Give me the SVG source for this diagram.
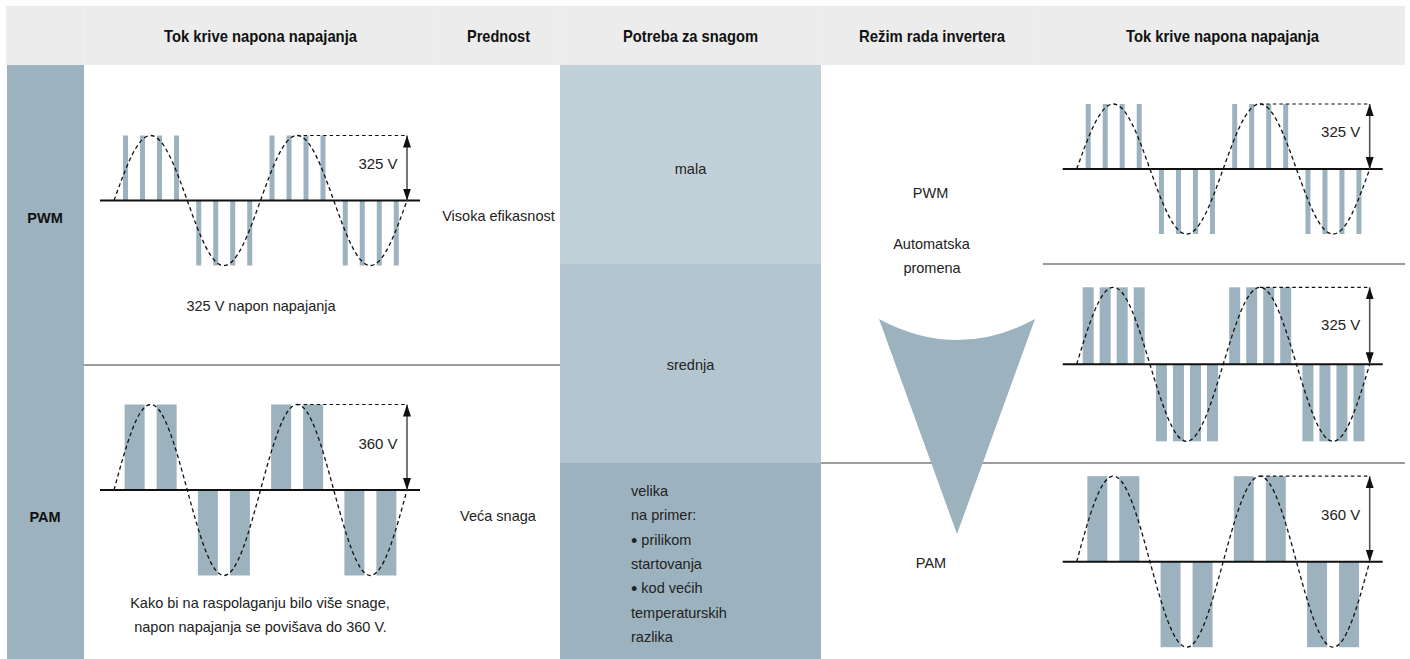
<svg xmlns="http://www.w3.org/2000/svg" width="1410" height="659" viewBox="0 0 1410 659">
<style>
.bg{fill:#ffffff}
.hdr{fill:#ebeceb}
.sep{stroke:#f0f1f0;stroke-width:1}
.col{fill:#9cb2bf}
.c1{fill:#c2d0d9}
.c2{fill:#b3c5cf}
.c3{fill:#9cb2bf}
.div{stroke:#3a3a3a;stroke-width:1}
.bar{fill:#9cb2bf}
.axis{stroke:#111;stroke-width:2}
.sine{fill:none;stroke:#111;stroke-width:1.3;stroke-dasharray:4 3}
.dash{fill:none;stroke:#111;stroke-width:1.2;stroke-dasharray:3.5 3}
.arr{stroke:#555;stroke-width:1.6;marker-start:url(#ah);marker-end:url(#ah)}
.h{font-family:"Liberation Sans",Arial,sans-serif;font-weight:bold;font-size:16.5px;fill:#111;text-anchor:middle}
.b{font-family:"Liberation Sans",Arial,sans-serif;font-weight:bold;font-size:14.5px;fill:#111;text-anchor:middle}
.t{font-family:"Liberation Sans",Arial,sans-serif;font-size:14.5px;fill:#222;text-anchor:middle}
.v{font-family:"Liberation Sans",Arial,sans-serif;font-size:15px;fill:#222;text-anchor:middle}
.tl{font-family:"Liberation Sans",Arial,sans-serif;font-size:14.5px;fill:#222}
.blt{font-size:18px}
.funnel{fill:#9cb2bf}
</style>
<defs>
<marker id="ah" viewBox="0 0 12 8" refX="12" refY="4" markerWidth="12" markerHeight="8" markerUnits="userSpaceOnUse" orient="auto-start-reverse">
<path d="M0,0 L12,4 L0,8 Z" fill="#111"/>
</marker>
</defs>
<rect class="bg" x="0" y="0" width="1410" height="659"/>

<g id="header">
<rect class="hdr" x="6" y="6" width="1399" height="59"/>
<line class="sep" x1="84" y1="6" x2="84" y2="65"/>
<line class="sep" x1="437" y1="6" x2="437" y2="65"/>
<line class="sep" x1="560" y1="6" x2="560" y2="65"/>
<line class="sep" x1="821" y1="6" x2="821" y2="65"/>
<line class="sep" x1="1038" y1="6" x2="1038" y2="65"/>
<text class="h" x="260.5" y="42" textLength="193" lengthAdjust="spacingAndGlyphs">Tok krive napona napajanja</text>
<text class="h" x="498.5" y="42" textLength="63" lengthAdjust="spacingAndGlyphs">Prednost</text>
<text class="h" x="690.5" y="42" textLength="135" lengthAdjust="spacingAndGlyphs">Potreba za snagom</text>
<text class="h" x="932" y="42" textLength="146" lengthAdjust="spacingAndGlyphs">Režim rada invertera</text>
<text class="h" x="1222.5" y="42" textLength="193" lengthAdjust="spacingAndGlyphs">Tok krive napona napajanja</text>
</g>

<g id="mode-column">
<rect class="col" x="7" y="65" width="77" height="594"/>
<text class="b" x="45" y="223">PWM</text>
<text class="b" x="45" y="522">PAM</text>
</g>

<g id="power-column">
<rect class="c1" x="560" y="65" width="261" height="199"/>
<rect class="c2" x="560" y="264" width="261" height="199"/>
<rect class="c3" x="560" y="463" width="261" height="196"/>
<text class="t" x="690.5" y="174">mala</text>
<text class="t" x="690.5" y="370">srednja</text>
<text class="tl" x="631" y="496">velika</text>
<text class="tl" x="631" y="520.3">na primer:</text>
<text class="tl" x="631" y="544.6"><tspan class="blt" dy="2">•</tspan><tspan dy="-2"> prilikom</tspan></text>
<text class="tl" x="631" y="568.9">startovanja</text>
<text class="tl" x="631" y="593.2"><tspan class="blt" dy="2">•</tspan><tspan dy="-2"> kod većih</tspan></text>
<text class="tl" x="631" y="617.5">temperaturskih</text>
<text class="tl" x="631" y="641.8">razlika</text>
</g>

<g id="dividers">
<line class="div" x1="84" y1="365" x2="560" y2="365"/>
<line class="div" x1="1043" y1="264" x2="1405" y2="264"/>
<line class="div" x1="821" y1="463" x2="1405" y2="463"/>
</g>

<g id="advantage">
<text class="t" x="498.5" y="221">Visoka efikasnost</text>
<text class="t" x="498" y="521">Veća snaga</text>
</g>

<g id="left-captions">
<text class="t" x="261" y="311">325 V napon napajanja</text>
<text class="t" x="260" y="608">Kako bi na raspolaganju bilo više snage,</text>
<text class="t" x="260.5" y="632">napon napajanja se povišava do 360 V.</text>
</g>

<g id="inverter-mode">
<text class="t" x="930.5" y="198">PWM</text>
<text class="t" x="931.5" y="249">Automatska</text>
<text class="t" x="932" y="273">promena</text>
<path class="funnel" d="M879,319 Q957,361 1035,319 L957,534 Z"/>
<text class="t" x="931" y="568">PAM</text>
</g>

<g id="wave-left-pwm" transform="translate(114,200.5)">
<rect class="bar" x="9" y="-65" width="5" height="65"/><rect class="bar" x="26" y="-65" width="5" height="65"/><rect class="bar" x="43" y="-65" width="5" height="65"/><rect class="bar" x="60" y="-65" width="5" height="65"/>
<rect class="bar" x="82.25" y="0" width="5" height="65"/><rect class="bar" x="99.25" y="0" width="5" height="65"/><rect class="bar" x="116.25" y="0" width="5" height="65"/><rect class="bar" x="133.25" y="0" width="5" height="65"/>
<rect class="bar" x="155.5" y="-65" width="5" height="65"/><rect class="bar" x="172.5" y="-65" width="5" height="65"/><rect class="bar" x="189.5" y="-65" width="5" height="65"/><rect class="bar" x="206.5" y="-65" width="5" height="65"/>
<rect class="bar" x="228.75" y="0" width="5" height="65"/><rect class="bar" x="245.75" y="0" width="5" height="65"/><rect class="bar" x="262.75" y="0" width="5" height="65"/><rect class="bar" x="279.75" y="0" width="5" height="65"/>
<line class="axis" x1="-14" y1="0" x2="306" y2="0"/>
<path class="sine" d="M0,0 c11.944,-33.3 23.37,-65 36.625,-65 s24.681,31.7 36.625,65 s23.37,65 36.625,65 s24.681,-31.7 36.625,-65 s23.37,-65 36.625,-65 s24.681,31.7 36.625,65 s23.37,65 36.625,65 s24.681,-31.7 36.625,-65"/>
<line class="dash" x1="183.125" y1="-65" x2="293" y2="-65"/>
<line class="arr" x1="293" y1="-65" x2="293" y2="0"/>
<text class="v" x="264" y="-32">325 V</text>
</g>

<g id="wave-left-pam" transform="translate(114,490)">
<rect class="bar" x="10.625" y="-85.5" width="20" height="85.5"/><rect class="bar" x="42.625" y="-85.5" width="20" height="85.5"/>
<rect class="bar" x="83.875" y="0" width="20" height="85.5"/><rect class="bar" x="115.875" y="0" width="20" height="85.5"/>
<rect class="bar" x="157.125" y="-85.5" width="20" height="85.5"/><rect class="bar" x="189.125" y="-85.5" width="20" height="85.5"/>
<rect class="bar" x="230.375" y="0" width="20" height="85.5"/><rect class="bar" x="262.375" y="0" width="20" height="85.5"/>
<line class="axis" x1="-14" y1="0" x2="306" y2="0"/>
<path class="sine" d="M0,0 c11.944,-43.8 23.37,-85.5 36.625,-85.5 s24.681,41.7 36.625,85.5 s23.37,85.5 36.625,85.5 s24.681,-41.7 36.625,-85.5 s23.37,-85.5 36.625,-85.5 s24.681,41.7 36.625,85.5 s23.37,85.5 36.625,85.5 s24.681,-41.7 36.625,-85.5"/>
<line class="dash" x1="183.125" y1="-85.5" x2="293" y2="-85.5"/>
<line class="arr" x1="293" y1="-85.5" x2="293" y2="0"/>
<text class="v" x="264" y="-41.5">360 V</text>
</g>

<g id="wave-right-pwm" transform="translate(1076.7,169)">
<rect class="bar" x="9" y="-65" width="5" height="65"/><rect class="bar" x="26" y="-65" width="5" height="65"/><rect class="bar" x="43" y="-65" width="5" height="65"/><rect class="bar" x="60" y="-65" width="5" height="65"/>
<rect class="bar" x="82.25" y="0" width="5" height="65"/><rect class="bar" x="99.25" y="0" width="5" height="65"/><rect class="bar" x="116.25" y="0" width="5" height="65"/><rect class="bar" x="133.25" y="0" width="5" height="65"/>
<rect class="bar" x="155.5" y="-65" width="5" height="65"/><rect class="bar" x="172.5" y="-65" width="5" height="65"/><rect class="bar" x="189.5" y="-65" width="5" height="65"/><rect class="bar" x="206.5" y="-65" width="5" height="65"/>
<rect class="bar" x="228.75" y="0" width="5" height="65"/><rect class="bar" x="245.75" y="0" width="5" height="65"/><rect class="bar" x="262.75" y="0" width="5" height="65"/><rect class="bar" x="279.75" y="0" width="5" height="65"/>
<line class="axis" x1="-14" y1="0" x2="306" y2="0"/>
<path class="sine" d="M0,0 c11.944,-33.3 23.37,-65 36.625,-65 s24.681,31.7 36.625,65 s23.37,65 36.625,65 s24.681,-31.7 36.625,-65 s23.37,-65 36.625,-65 s24.681,31.7 36.625,65 s23.37,65 36.625,65 s24.681,-31.7 36.625,-65"/>
<line class="dash" x1="183.125" y1="-65" x2="293" y2="-65"/>
<line class="arr" x1="293" y1="-65" x2="293" y2="0"/>
<text class="v" x="264" y="-32">325 V</text>
</g>

<g id="wave-right-pwm-wide" transform="translate(1076.7,364.3)">
<rect class="bar" x="6" y="-77" width="11" height="77"/><rect class="bar" x="23" y="-77" width="11" height="77"/><rect class="bar" x="40" y="-77" width="11" height="77"/><rect class="bar" x="57" y="-77" width="11" height="77"/>
<rect class="bar" x="79.25" y="0" width="11" height="77"/><rect class="bar" x="96.25" y="0" width="11" height="77"/><rect class="bar" x="113.25" y="0" width="11" height="77"/><rect class="bar" x="130.25" y="0" width="11" height="77"/>
<rect class="bar" x="152.5" y="-77" width="11" height="77"/><rect class="bar" x="169.5" y="-77" width="11" height="77"/><rect class="bar" x="186.5" y="-77" width="11" height="77"/><rect class="bar" x="203.5" y="-77" width="11" height="77"/>
<rect class="bar" x="225.75" y="0" width="11" height="77"/><rect class="bar" x="242.75" y="0" width="11" height="77"/><rect class="bar" x="259.75" y="0" width="11" height="77"/><rect class="bar" x="276.75" y="0" width="11" height="77"/>
<line class="axis" x1="-14" y1="0" x2="306" y2="0"/>
<path class="sine" d="M0,0 c11.944,-39.45 23.37,-77 36.625,-77 s24.681,37.55 36.625,77 s23.37,77 36.625,77 s24.681,-37.55 36.625,-77 s23.37,-77 36.625,-77 s24.681,37.55 36.625,77 s23.37,77 36.625,77 s24.681,-37.55 36.625,-77"/>
<line class="dash" x1="183.125" y1="-77" x2="293" y2="-77"/>
<line class="arr" x1="293" y1="-77" x2="293" y2="0"/>
<text class="v" x="264" y="-34">325 V</text>
</g>

<g id="wave-right-pam" transform="translate(1076.7,561.7)">
<rect class="bar" x="10.625" y="-85.5" width="20" height="85.5"/><rect class="bar" x="42.625" y="-85.5" width="20" height="85.5"/>
<rect class="bar" x="83.875" y="0" width="20" height="85.5"/><rect class="bar" x="115.875" y="0" width="20" height="85.5"/>
<rect class="bar" x="157.125" y="-85.5" width="20" height="85.5"/><rect class="bar" x="189.125" y="-85.5" width="20" height="85.5"/>
<rect class="bar" x="230.375" y="0" width="20" height="85.5"/><rect class="bar" x="262.375" y="0" width="20" height="85.5"/>
<line class="axis" x1="-14" y1="0" x2="306" y2="0"/>
<path class="sine" d="M0,0 c11.944,-43.8 23.37,-85.5 36.625,-85.5 s24.681,41.7 36.625,85.5 s23.37,85.5 36.625,85.5 s24.681,-41.7 36.625,-85.5 s23.37,-85.5 36.625,-85.5 s24.681,41.7 36.625,85.5 s23.37,85.5 36.625,85.5 s24.681,-41.7 36.625,-85.5"/>
<line class="dash" x1="183.125" y1="-85.5" x2="293" y2="-85.5"/>
<line class="arr" x1="293" y1="-85.5" x2="293" y2="0"/>
<text class="v" x="264" y="-41.5">360 V</text>
</g>
</svg>
